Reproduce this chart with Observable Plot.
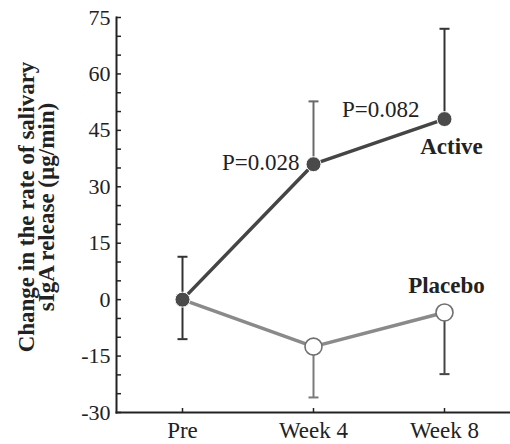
<!DOCTYPE html>
<html>
<head>
<meta charset="utf-8">
<script src="https://cdn.jsdelivr.net/npm/d3@7"></script>
<script src="https://cdn.jsdelivr.net/npm/@observablehq/plot@0.6"></script>
<style>
  html, body { margin: 0; padding: 0; background: #fff; }
</style>
</head>
<body>
<div id="chart"></div>
<script>
const categories = ["Pre", "Week 4", "Week 8"];
const activeMean = [0, 36, 48];
const activeUpper = [11.4, 52.7, 72];
const placeboMean = [0, -12.5, -3.4];
const placeboLower = [-10.5, -26, -19.8];
const pLabels = ["", "P=0.028", "P=0.082"];
const yMinorTicks = [-30, -25, -20, -15, -10, -5, 0, 5, 10, 15, 20, 25, 30, 35, 40, 45, 50, 55, 60, 65, 70, 75];
const yMajorTicks = [-30, -15, 0, 15, 30, 45, 60, 75];
const yLabel = "Change in the rate of salivary\nsIgA release (\u00b5g/min)";
const seriesNames = ["Active", "Placebo"];

const active = categories.map((c, i) => ({x: c, y: activeMean[i], hi: activeUpper[i], p: pLabels[i]}));
const placebo = categories.map((c, i) => ({x: c, y: placeboMean[i], lo: placeboLower[i]}));

const font = "'Liberation Serif', 'Times New Roman', serif";
const capSymbol = {
  draw(context, size) {
    const r = Math.sqrt(size / Math.PI);
    context.moveTo(-r, 0);
    context.lineTo(r, 0);
  }
};

const errColorsActive = ["#333", "#6a6a6a", "#333"];
const errColorsPlacebo = ["#333", "#7a7a7a", "#444"];

const chart = Plot.plot({
  width: 510,
  height: 444,
  marginLeft: 116,
  marginRight: 0,
  marginTop: 17,
  marginBottom: 32,
  style: {fontFamily: font, fontSize: "22px", background: "#fff", color: "#222"},
  x: {type: "point", domain: categories, padding: 0.5},
  y: {domain: [-30, 75]},
  marks: [
    Plot.frame({anchor: "left", stroke: "#222", strokeWidth: 2}),
    Plot.frame({anchor: "bottom", stroke: "#222", strokeWidth: 2}),
    Plot.axisY(yMinorTicks, {tickSize: -5, tickFormat: () => "", label: null, stroke: "#222", strokeWidth: 1.5}),
    Plot.axisY(yMajorTicks, {tickSize: 0, tickPadding: 6, label: null, fontSize: 22, fill: "#222", tickFormat: d => String(d)}),
    Plot.axisX({tickSize: -4, tickPadding: 13, label: null, fontSize: 23, fill: "#222", stroke: "#222", strokeWidth: 1.5}),
    Plot.text([yLabel], {frameAnchor: "left", textAnchor: "middle", lineAnchor: "middle", rotate: -90, dx: -79, dy: -8, fontWeight: "bold", fontSize: 23, lineHeight: 0.88, fill: "#222"}),
    // error bars
    Plot.ruleX(placebo, {x: "x", y1: "y", y2: "lo", stroke: (d, i) => errColorsPlacebo[i], strokeWidth: 2}),
    Plot.dot(placebo, {x: "x", y: "lo", symbol: capSymbol, r: 5, stroke: (d, i) => errColorsPlacebo[i], strokeWidth: 2}),
    Plot.ruleX(active, {x: "x", y1: "y", y2: "hi", stroke: (d, i) => errColorsActive[i], strokeWidth: 2}),
    Plot.dot(active, {x: "x", y: "hi", symbol: capSymbol, r: 5, stroke: (d, i) => errColorsActive[i], strokeWidth: 2}),
    // lines
    Plot.line(placebo, {x: "x", y: "y", stroke: "#8a8a8a", strokeWidth: 3.5}),
    Plot.line(active, {x: "x", y: "y", stroke: "#454545", strokeWidth: 3.5}),
    // points
    Plot.dot(placebo.filter((d, i) => i > 0), {x: "x", y: "y", r: 8.5, fill: "#fff", stroke: "#707070", strokeWidth: 1.6}),
    Plot.dot(active, {x: "x", y: "y", r: 7.5, fill: "#4a4a4a", stroke: "#fff", strokeWidth: 1}),
    // annotations
    Plot.text(active.filter(d => d.p === "P=0.028"), {x: "x", y: "y", text: "p", textAnchor: "end", dx: -14, dy: -2, fontSize: 23, fill: "#222"}),
    Plot.text(active.filter(d => d.p === "P=0.082"), {x: "x", y: "y", text: "p", textAnchor: "end", dx: -25, dy: -9, fontSize: 23, fill: "#222"}),
    Plot.text(active.slice(-1), {x: "x", y: "y", text: () => seriesNames[0], dx: 7, dy: 28, fontWeight: "bold", fontSize: 23, fill: "#222"}),
    Plot.text(placebo.slice(-1), {x: "x", y: "y", text: () => seriesNames[1], dx: 2, dy: -27, fontWeight: "bold", fontSize: 23, fill: "#222"})
  ]
});
document.getElementById("chart").appendChild(chart);
</script>
</body>
</html>
